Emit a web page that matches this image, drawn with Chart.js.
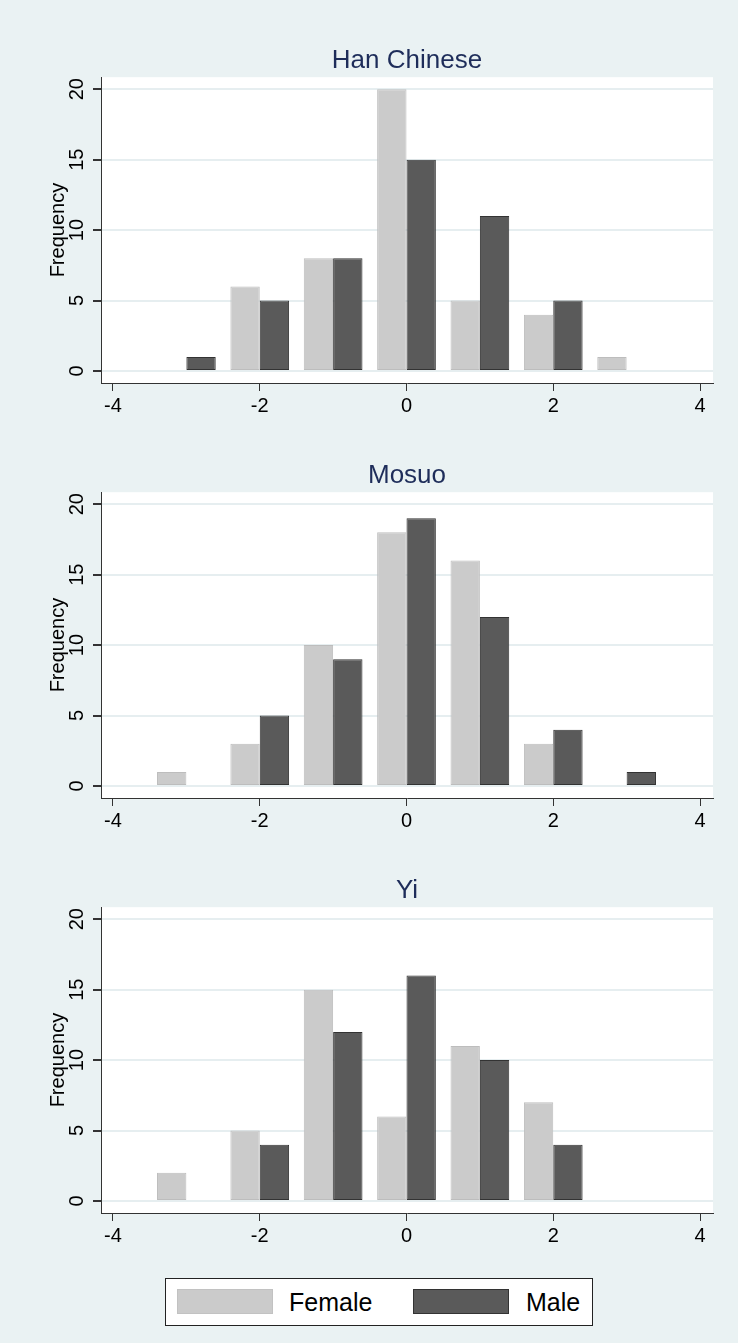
<!DOCTYPE html>
<html>
<head>
<meta charset="utf-8">
<script src="https://cdn.jsdelivr.net/npm/chart.js@4.4.1/dist/chart.umd.min.js"></script>
<style>
  body { margin: 0; background: #EAF2F3; width: 738px; height: 1343px; position: relative; overflow: hidden; font-family: "Liberation Sans", Arial, sans-serif; }
  .panel { position: absolute; left: 0; width: 738px; height: 415px; }
  #legend { position: absolute; left: 165px; top: 1278px; width: 426px; height: 46px; background: #fff; border: 1px solid #222; }
  .sw { position: absolute; top: 10px; width: 96px; height: 25px; box-sizing: border-box; }
  .lab { position: absolute; top: 8px; font-size: 25px; line-height: 30px; color: #000; }
</style>
</head>
<body>

<div class="panel" style="top:0px"><canvas id="chart0" width="738" height="415"></canvas></div>
<div class="panel" style="top:415px"><canvas id="chart1" width="738" height="415"></canvas></div>
<div class="panel" style="top:830px"><canvas id="chart2" width="738" height="415"></canvas></div>

<div id="legend">
  <div class="sw" style="left:11px; background:#CBCBCB; border:1px solid #C2C2C2;"></div>
  <div class="lab" style="left:123px;">Female</div>
  <div class="sw" style="left:247px; background:#5A5A5A; border:1px solid #333;"></div>
  <div class="lab" style="left:360px;">Male</div>
</div>

<script>
// bin centres of the histogram (standardised score)
var binCenters = [-3, -2, -1, 0, 1, 2, 3];

var groupTitles = ['Han Chinese', 'Mosuo', 'Yi'];
var seriesNames = ['Female', 'Male'];

var hanFemale = [null, 6, 8, 20, 5, 4, 1];
var hanMale = [1, 5, 8, 15, 11, 5, null];
var mosuoFemale = [1, 3, 10, 18, 16, 3, null];
var mosuoMale = [null, 5, 9, 19, 12, 4, 1];
var yiFemale = [2, 5, 15, 6, 11, 7, null];
var yiMale = [null, 4, 12, 16, 10, 4, null];

var xTicks = [-4, -2, 0, 2, 4];
var yTicks = [0, 5, 10, 15, 20];

var FONT = '"Liberation Sans", Arial, sans-serif';

// white plot region like stata
var plotBg = {
	id: 'plotBg',
	beforeDraw: function(chart) {
		var a = chart.chartArea;
		var ctx = chart.ctx;
		ctx.save();
		ctx.fillStyle = '#ffffff';
		ctx.fillRect(a.left, a.top, a.right - a.left, a.bottom - a.top);
		ctx.restore();
	}
};

function makeChart(id, title, female, male) {
	var ctx = document.getElementById(id).getContext('2d');
	return new Chart(ctx, {
		type: 'bar',
		data: {
			labels: binCenters,
			datasets: [{
					label: seriesNames[0],
					backgroundColor: '#CBCBCB',
					borderColor: '#BDBDBD',
					borderWidth: 1,
					borderSkipped: false,
					data: female
				},
				{
					label: seriesNames[1],
					backgroundColor: '#5A5A5A',
					borderColor: '#333333',
					borderWidth: 1,
					borderSkipped: false,
					data: male
				}
			]
		},
		options: {
			responsive: false,
			animation: false,
			layout: { padding: { left: 0, right: 25, top: 0, bottom: 0 } },
			datasets: { bar: { categoryPercentage: 0.8, barPercentage: 1.0 } },
			plugins: {
				legend: { display: false },
				tooltip: { enabled: false },
				title: {
					display: true,
					text: title,
					fullSize: false,
					color: '#1E2D5A',
					font: { family: FONT, size: 26, weight: 'normal' },
					padding: { top: 45, bottom: 1 }
				}
			},
			scales: {
				x: {
					type: 'linear',
					offset: false,
					min: -4.1635,
					max: 4.177,
					afterBuildTicks: function(scale) {
						scale.ticks = xTicks.map(function(v) { return { value: v }; });
					},
					afterFit: function(scale) { scale.height = 32; },
					grid: { offset: false, drawOnChartArea: false, drawTicks: true, tickLength: 8, tickColor: '#333333' },
					border: { display: true, color: '#333333', width: 1 },
					ticks: { color: '#000', font: { family: FONT, size: 20 }, padding: 3, maxRotation: 0 }
				},
				y: {
					min: -0.851,
					max: 20.851,
					afterBuildTicks: function(scale) {
						scale.ticks = yTicks.map(function(v) { return { value: v }; });
					},
					afterFit: function(scale) { scale.width = 101; },
					grid: { color: '#E6EEF0', lineWidth: 2, tickLength: 8, tickColor: '#333333' },
					border: { display: true, color: '#333333', width: 1 },
					ticks: {
						color: '#000',
						font: { family: FONT, size: 20 },
						minRotation: 90,
						maxRotation: 90,
						crossAlign: 'center',
						padding: 4
					},
					title: {
						display: true,
						text: 'Frequency',
						color: '#000',
						font: { family: FONT, size: 20 },
						padding: { top: 46, bottom: 0 }
					}
				}
			}
		},
		plugins: [plotBg]
	});
}

makeChart('chart0', groupTitles[0], hanFemale, hanMale);
makeChart('chart1', groupTitles[1], mosuoFemale, mosuoMale);
makeChart('chart2', groupTitles[2], yiFemale, yiMale);
</script>
</body>
</html>
